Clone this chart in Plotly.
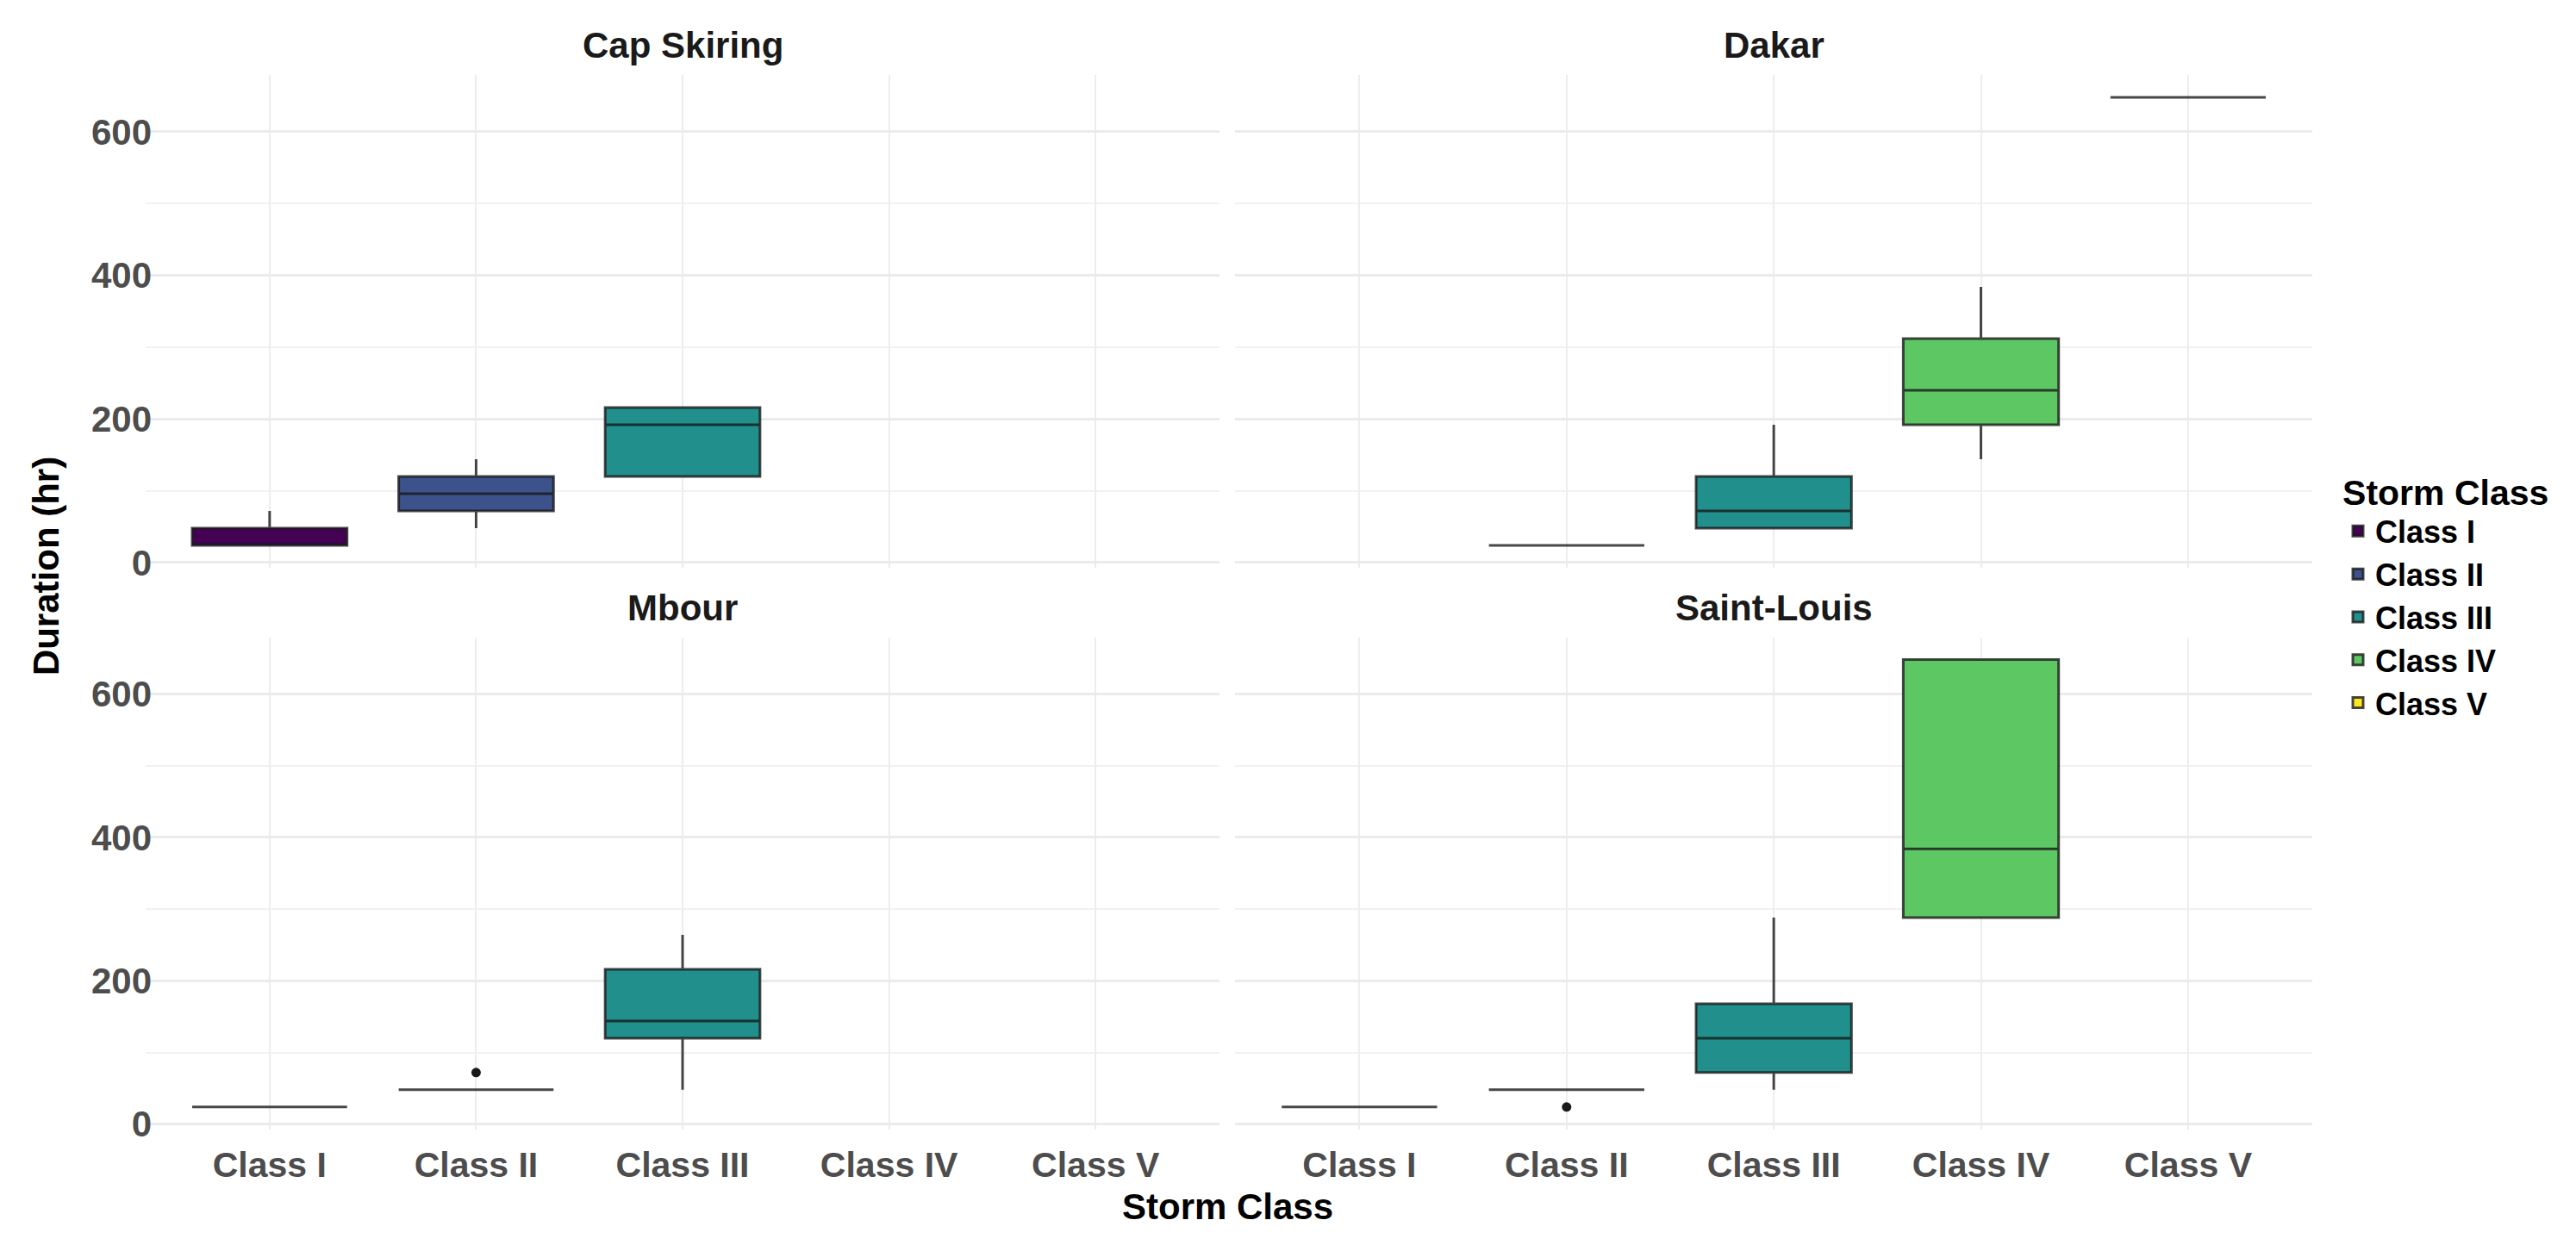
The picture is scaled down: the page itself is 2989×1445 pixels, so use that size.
import plotly.graph_objects as go
from plotly.subplots import make_subplots

locations = ["Cap Skiring", "Dakar", "Mbour", "Saint-Louis"]
classes = ["Class I", "Class II", "Class III", "Class IV", "Class V"]
class_colors = ["#440154", "#3B528B", "#21908C", "#5DC863", "#FDE725"]

# box statistics per location (rows) and storm class (columns), hours
lower = [[24, 48, 120, None, None],
         [None, 24, 48, 144, 648],
         [24, 48, 48, None, None],
         [24, 48, 48, 288, None]]
q1 = [[24, 72, 120, None, None],
      [None, 24, 48, 192, 648],
      [24, 48, 120, None, None],
      [24, 48, 72, 288, None]]
median = [[24, 96, 192, None, None],
          [None, 24, 72, 240, 648],
          [24, 48, 144, None, None],
          [24, 48, 120, 384, None]]
q3 = [[48, 120, 216, None, None],
      [None, 24, 120, 312, 648],
      [24, 48, 216, None, None],
      [24, 48, 168, 648, None]]
upper = [[72, 144, 216, None, None],
         [None, 24, 192, 384, 648],
         [24, 48, 264, None, None],
         [24, 48, 288, 648, None]]

# outliers: (location index, class, value)
outlier_loc = [2, 3]
outlier_class = ["Class II", "Class II"]
outlier_val = [72, 24]

y_ticks = [0, 200, 400, 600]

FONT = "Liberation Sans"

fig = make_subplots(rows=2, cols=2)

shown = set()
for i, loc in enumerate(locations):
    r, c = i // 2 + 1, i % 2 + 1
    for j, cl in enumerate(classes):
        if q1[i][j] is None:
            continue
        fig.add_trace(go.Box(
            x=[cl], q1=[q1[i][j]], median=[median[i][j]], q3=[q3[i][j]],
            lowerfence=[lower[i][j]], upperfence=[upper[i][j]],
            name=cl, legendgroup=cl, showlegend=cl not in shown, legendrank=j,
            fillcolor=class_colors[j], width=0.75, whiskerwidth=0,
            line=dict(color="rgba(25,25,25,0.8)", width=3),
            boxpoints=False, hoverinfo="skip"), row=r, col=c)
        shown.add(cl)

for k in range(len(outlier_val)):
    i = outlier_loc[k]
    fig.add_trace(go.Scatter(
        x=[outlier_class[k]], y=[outlier_val[k]], mode="markers",
        marker=dict(color="#1A1A1A", size=11), showlegend=False,
        hoverinfo="skip"), row=i // 2 + 1, col=i % 2 + 1)

# panel domains in paper coordinates (figure has no margins)
xdom = [[0.0539, 0.4707], [0.4768, 0.8950]]
ydom = [[0.5440, 0.9446], [0.0872, 0.4872]]

for i in range(4):
    r, c = i // 2 + 1, i % 2 + 1
    fig.update_xaxes(
        domain=xdom[c - 1], type="category", categoryorder="array",
        categoryarray=classes, range=[-0.6, 4.6],
        showgrid=True, gridcolor="#EDEDED", gridwidth=2,
        showline=False, zeroline=False, ticks="",
        showticklabels=(r == 2), ticklabelstandoff=13,
        tickfont=dict(family=FONT, size=41, color="#4D4D4D", weight="bold"),
        row=r, col=c)
    fig.update_yaxes(
        domain=ydom[r - 1], range=[-7, 679], tickvals=y_ticks,
        showgrid=True, gridcolor="#EBEBEB", gridwidth=3,
        minor=dict(dtick=100, tick0=0, showgrid=True, gridcolor="#F1F1F1", gridwidth=2),
        showline=False, zeroline=False, ticks="",
        showticklabels=(c == 1), ticklabelstandoff=-8,
        tickfont=dict(family=FONT, size=42, color="#4D4D4D", weight="bold"),
        row=r, col=c)

annotations = []
for i, loc in enumerate(locations):
    r, c = i // 2, i % 2
    annotations.append(dict(
        text="<b>%s</b>" % loc, xref="paper", yref="paper",
        x=sum(xdom[c]) / 2, y=ydom[r][1] + 0.006, xanchor="center", yanchor="bottom",
        showarrow=False, font=dict(family=FONT, size=42, color="#1A1A1A")))
annotations.append(dict(
    text="<b>Storm Class</b>", xref="paper", yref="paper", x=0.474, y=0.024,
    xanchor="center", yanchor="middle", showarrow=False,
    font=dict(family=FONT, size=42, color="black")))
annotations.append(dict(
    text="<b>Duration (hr)</b>", xref="paper", yref="paper", x=0.015, y=0.545,
    xanchor="center", yanchor="middle", textangle=-90, showarrow=False,
    font=dict(family=FONT, size=42, color="black")))

fig.update_layout(
    width=2989, height=1445,
    margin=dict(l=0, r=0, t=0, b=0),
    paper_bgcolor="white", plot_bgcolor="white",
    boxmode="overlay",
    annotations=annotations,
    legend=dict(
        title=dict(text="<b>Storm Class</b>", font=dict(family=FONT, size=41, color="black")),
        font=dict(family=FONT, size=36, color="black", weight="bold"),
        x=0.906, xanchor="left", y=0.632, yanchor="top",
        traceorder="normal", tracegroupgap=0, bgcolor="rgba(0,0,0,0)"),
)

fig.write_html("out.html")
